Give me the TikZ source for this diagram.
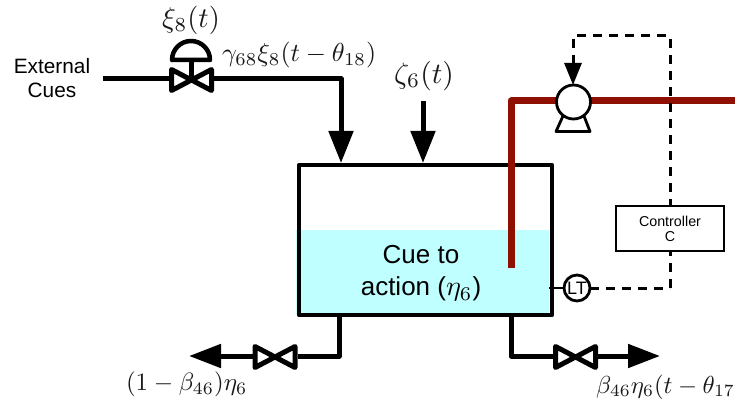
\documentclass[tikz,border=0pt]{standalone}
\usepackage{graphicx}
\usepackage{fontspec}
\setmainfont{Liberation Sans}
\usetikzlibrary{arrows.meta}
\definecolor{liquid}{HTML}{BFFFFF}
\definecolor{steam}{HTML}{8F1000}
\newcommand{\fsz}[1]{\fontsize{#1}{#1}\selectfont}
\tikzset{
  pipe/.style={line width=5pt,draw=black,line join=round},
  vessel/.style={line width=4.2pt,draw=black,line join=round},
  valveshape/.style={line width=5pt,draw=black,fill=white,line join=round},
  signal/.style={line width=3pt,draw=black,dash pattern=on 9pt off 7pt},
  thinline/.style={line width=2.8pt,draw=black,line join=round},
  flow/.style={-{Triangle[length=32pt,width=24pt]}},
  smallflow/.style={-{Triangle[length=22pt,width=17pt]}},
  outflow/.style={-{Triangle[length=32pt,width=23pt]}},
  lab/.style={inner sep=0pt,outer sep=0pt,text=black},
  mlab/.style={inner sep=0pt,outer sep=0pt,text=black!90},
}
\newcommand{\valve}[2]{%
  \draw[valveshape] (#1-20,#2-10.5) -- (#1+20,#2+10.5) -- (#1+20,#2-10.5) -- (#1-20,#2+10.5) -- cycle;}
\begin{document}
\begin{tikzpicture}[x=1pt,y=-1pt]
\useasboundingbox (0,0) rectangle (735,403);
% liquid
\fill[liquid] (296,229.5) rectangle (549,315);
% tank
\draw[vessel] (299,165) rectangle (552,315);
% named anchor points
\coordinate (tankIn1) at (341,163);
\coordinate (tankIn2) at (423,163);
\coordinate (zetaTop) at (423,101);
\coordinate (extStart) at (103,79);
\coordinate (bend1) at (341,79);
\coordinate (coilEnd) at (511,268);
\coordinate (coilBend) at (511,101);
\coordinate (steamEnd) at (735,101);
\coordinate (dashA) at (573,36);
\coordinate (dashB) at (670,36);
\coordinate (dashC) at (670,288);
\coordinate (tankR) at (549,288);
\coordinate (outL1) at (339,315);
\coordinate (outL2) at (339,356);
\coordinate (outLEnd) at (189,356);
\coordinate (outR1) at (511,315);
\coordinate (outR2) at (511,356);
\coordinate (outREnd) at (660,356);
% steam coil
\draw[line width=7pt,draw=steam,line join=round] (coilEnd) -- (coilBend) -- (steamEnd);
% pipes
\draw[pipe] (extStart) -- (172,79);
\draw[pipe,flow] (211,79) -- (bend1) -- (tankIn1);
\draw[pipe,flow] (zetaTop) -- (tankIn2);
\draw[pipe] (outL1) -- (outL2) -- (298,356);
\draw[pipe,outflow] (254,356) -- (outLEnd);
\draw[pipe] (outR1) -- (outR2) -- (554,356);
\draw[pipe,outflow] (598,356) -- (outREnd);
% valves
\valve{191.5}{80}
\valve{275}{357}
\valve{575.5}{357}
% actuator
\draw[line width=4.5pt,line join=round,fill=white] (172,60) arc[start angle=180,end angle=360,radius=19] -- cycle;
\draw[line width=4.5pt] (191.5,60) -- (191.5,80);
% signals
\draw[signal] (dashC) -- (dashB) -- (dashA) -- (573,63);
\draw[thinline,smallflow] (573,60) -- (573,85);
\draw[signal] (590,288) -- (dashC);
\draw[thinline] (tankR) -- (564,288);
% pump
\draw[thinline,fill=white] (563,116) -- (556,131.5) -- (590,131.5) -- (584,116);
\draw[thinline,fill=white] (573.5,102) circle[radius=17];
% controller
\node[draw=black,line width=2.8pt,fill=white,minimum width=108pt,minimum height=45pt,inner sep=0pt,align=center,font=\fsz{14.3}] (ctrl) at (670,228.5) {Controller\\[0.7pt]C};
% LT
\node[draw=black,line width=2.8pt,fill=white,circle,minimum size=26pt,inner sep=0pt,font=\fsz{18}] (lt) at (577,288) {LT};
% labels
\node[lab,align=center,font=\fsz{20.8}] (ext) at (52,78) {External\\[4pt]Cues};
\node[lab,align=center,font=\fsz{26}] (cue) at (421,273.5) {Cue to\\[6pt]action ({\fsz{10}\scalebox{2.8}{$\eta_6$}})};
\node[mlab,anchor=center] (xi) at (191,20) {\scalebox{2.85}{$\xi_8(t)$}};
\node[mlab,anchor=west] (gam) at (222,55) {\scalebox{2.6}{$\gamma_{68}\xi_8(t-\theta_{18})$}};
\node[mlab,anchor=center] (zeta) at (424,76) {\scalebox{2.95}{$\zeta_6(t)$}};
\node[mlab,anchor=west] (bl) at (126,384) {\scalebox{2.5}{$(1-\beta_{46})\eta_6$}};
\node[mlab,anchor=east] (br) at (735,387) {\scalebox{2.46}{$\beta_{46}\eta_6(t-\theta_{17}$}};
\end{tikzpicture}
\end{document}
